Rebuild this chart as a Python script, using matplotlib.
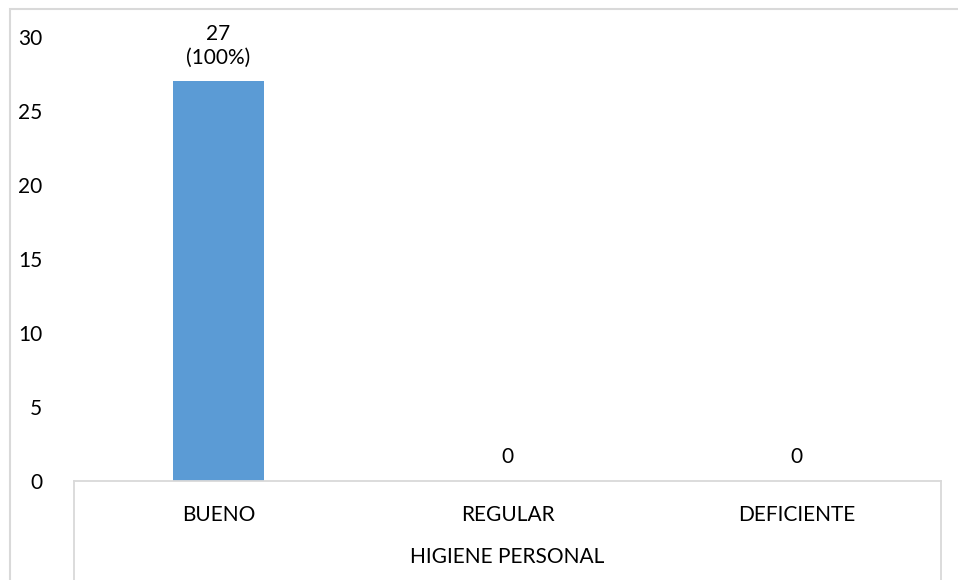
import matplotlib.pyplot as plt
from matplotlib.patches import Rectangle
from matplotlib.lines import Line2D

categorias = ["BUENO", "REGULAR", "DEFICIENTE"]
frecuencias = [27, 0, 0]
titulo_eje = "HIGIENE PERSONAL"
marcas_y = [0, 5, 10, 15, 20, 25, 30]

total = sum(frecuencias)
etiquetas = []
for f in frecuencias:
    if f > 0:
        etiquetas.append(f"{f}\n({f / total * 100:.0f}%)")
    else:
        etiquetas.append(f"{f}")

plt.rcParams['font.family'] = ['Lato', 'DejaVu Sans']
gris = '#D9D9D9'
tam = 15

W, H = 958, 580
fig = plt.figure(figsize=(W / 100, H / 100), dpi=100)
ax = fig.add_axes([74 / W, 99 / H, (941 - 74) / W, (543 - 99) / H])

x = list(range(len(categorias)))
barras = ax.bar(x, frecuencias, width=0.315, color='#5B9BD5')

for b, txt in zip(barras, etiquetas):
    ax.annotate(txt, (b.get_x() + b.get_width() / 2, b.get_height()),
                xytext=(0, 10), textcoords='offset points',
                ha='center', va='bottom', fontsize=tam, color='#000000',
                linespacing=1.2)

ax.set_xlim(-0.5, len(categorias) - 0.5)
ax.set_ylim(0, marcas_y[-1])
ax.set_yticks(marcas_y)
ax.tick_params(axis='y', length=0, pad=23, labelsize=tam)
ax.set_xticks(x)
ax.set_xticklabels(categorias)
ax.tick_params(axis='x', length=0, pad=17, labelsize=tam)

for lado in ['top', 'right', 'left']:
    ax.spines[lado].set_visible(False)
ax.spines['bottom'].set_color(gris)
ax.spines['bottom'].set_linewidth(1.3)

# separadores del eje de categorias y titulo del grupo
x0, x1 = 74 / W, 941 / W
y0 = 99 / H
for xx in (x0, x1):
    fig.add_artist(Line2D([xx, xx], [y0, -0.02], color=gris, lw=1.3,
                          transform=fig.transFigure))
fig.text((x0 + x1) / 2, (H - 557) / H, titulo_eje, ha='center', va='center',
         fontsize=tam)

# borde del area del grafico
fig.add_artist(Rectangle((10 / W, -0.1), 1.2, (H - 9) / H + 0.1,
                         fill=False, edgecolor=gris, lw=1.5,
                         transform=fig.transFigure))

fig.savefig('out.png', dpi=100)
